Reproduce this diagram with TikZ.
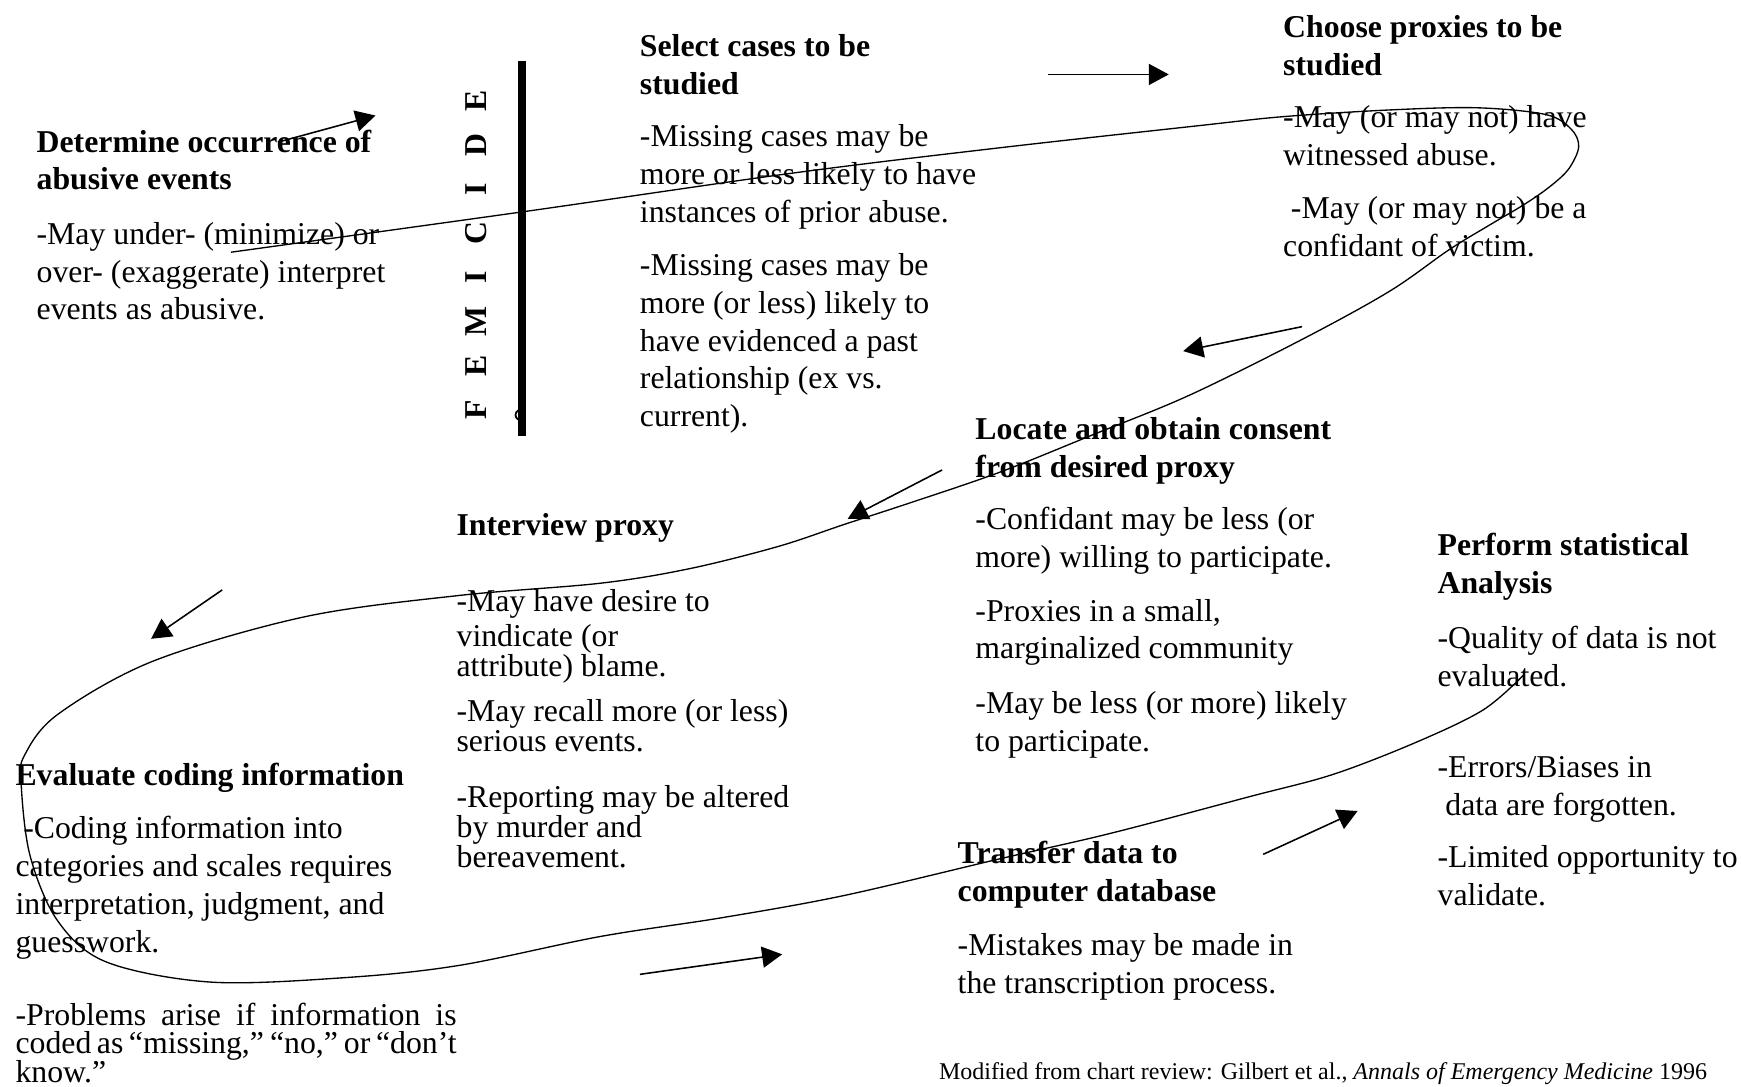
\documentclass[tikz,border=0pt]{standalone}
\usepackage{fontspec}
\setmainfont{Liberation Serif}
\usetikzlibrary{arrows.meta}
\newcommand\firstln{\rule{0pt}{22pt}}
\begin{document}
\begin{tikzpicture}[x=1pt,y=-1pt,
  blk/.style={anchor=north west, inner sep=0pt, outer sep=0pt, align=left, font=\fontsize{28.6}{34}\selectfont},
  tight/.style={blk, font=\fontsize{28.6}{27}\selectfont},
  arr/.style={line width=1.4pt, -{Triangle[length=18pt,width=19pt]}},
  loopline/.style={line width=1.2pt}]
\useasboundingbox (0,0) rectangle (1568,978);

% text blocks
\node[blk] (det) at (33,115) {\firstln\textbf{Determine occurrence of}\\\textbf{abusive events}\\[15pt]-May under- (minimize) or\\over- (exaggerate) interpret\\events as abusive.};

\node[blk] (sel) at (576,29) {\firstln\textbf{Select cases to be}\\\textbf{studied}\\[13pt]-Missing cases may be\\more or less likely to have\\instances of prior abuse.\\[14pt]-Missing cases may be\\more (or less) likely to\\have evidenced a past\\relationship (ex vs.\\current).};

\node[blk] (cho) at (1155,12) {\firstln\textbf{Choose proxies to be}\\\textbf{studied}\\[13pt]-May (or may not) have\\witnessed abuse.\\[14pt]\hspace*{7pt}-May (or may not) be a\\confidant of victim.};

\node[blk] (loc) at (878,374) {\firstln\textbf{Locate and obtain consent}\\\textbf{from desired proxy}\\[13pt]-Confidant may be less (or\\more) willing to participate.\\[14pt]-Proxies in a small,\\marginalized community\\[15pt]-May be less (or more) likely\\to participate.};

\node[tight] (int) at (411,460) {\firstln\textbf{Interview proxy}\\[41pt]-May have desire to\\[5pt]vindicate (or\\attribute) blame.\\[13pt]-May recall more (or less)\\serious events.\\[24pt]-Reporting may be altered\\by murder and\\bereavement.};

\node[blk] (eva) at (14,685) {\firstln\textbf{Evaluate coding information}\\[14pt]\hspace*{7pt}-Coding information into\\categories and scales requires\\interpretation, judgment, and\\guesswork.};

\node[blk, font=\fontsize{28.6}{25.5}\selectfont] (prob) at (14,901) {\firstln\hbox to 397pt{-Problems arise if information is}\\\hbox to 397pt{coded as “missing,” “no,” or “don’t}\\[-1pt]know.”};

\node[blk] (tra) at (862,755) {\firstln\textbf{Transfer data to}\\\textbf{computer database}\\[15pt]-Mistakes may be made in\\the transcription process.};

\node[blk] (per) at (1294,478) {\firstln\textbf{Perform statistical}\\\textbf{Analysis}\\[16pt]-Quality of data is not\\evaluated.\\[48pt]-Errors/Biases in\\\hspace*{7pt}data are forgotten.\\[13pt]-Limited opportunity to\\validate.};

\node[anchor=base west, inner sep=0pt, font=\fontsize{21.6}{26}\selectfont] (foot) at (845,972) {Modified from chart review: Gilbert et al., \textit{Annals of Emergency Medicine} 1996};

% FEMICIDE and bar
\node[rotate=90, inner sep=0pt, font=\fontsize{28.6}{34}\selectfont\bfseries] (fem) at (429,230)
  {\makebox[39.7pt]{F}\makebox[39.7pt]{E}\makebox[39.7pt]{M}\makebox[39.7pt]{I}\makebox[39.7pt]{C}\makebox[39.7pt]{I}\makebox[39.7pt]{D}\makebox[39.7pt]{E}};
\node[fill=black, minimum width=7pt, minimum height=337pt, inner sep=0pt] (bar) at (470,223.5) {};
\draw[line width=1.6pt] (467,369) .. controls (463,371) and (463,376) .. (467,378);

% loop curve
\draw[loopline] plot[smooth, tension=0.55] coordinates {
 (208,227) (468,191) (712,156) (900,133) (1080,113) (1155,105) (1250,99) (1329,97) (1391,103)
 (1414,116) (1421,132) (1412,152) (1395,168) (1372,184) (1340,203) (1304,225) (1251,262) (1173,305)
 (1070,356) (982,392) (900,425) (821,452) (760,472) (700,492) (620,512) (540,525) (413,536)
 (275,555) (138,595) (52,643) (22,680) (19,705) (27,770) (52,829) (96,866) (190,884) (310,880)
 (413,869) (540,843) (650,826) (760,806) (900,773) (1000,750) (1125,717) (1200,697) (1275,668)
 (1335,639) (1371,608)};

% arrows
\coordinate (a1s) at (250,128); \coordinate (a1e) at (338,104);
\coordinate (a2s) at (943,67);  \coordinate (a2e) at (1052,67);
\coordinate (a3s) at (1172,294); \coordinate (a3e) at (1065,316);
\coordinate (a4s) at (848,423); \coordinate (a4e) at (763,467);
\coordinate (a5s) at (200,531); \coordinate (a5e) at (136,575);
\coordinate (a6s) at (576,877); \coordinate (a6e) at (704,859);
\coordinate (a7s) at (1137,769); \coordinate (a7e) at (1222,730);
\draw[arr] (a1s) -- (a1e);
\draw[arr] (a2s) -- (a2e);
\draw[arr] (a3s) -- (a3e);
\draw[arr] (a4s) -- (a4e);
\draw[arr] (a5s) -- (a5e);
\draw[arr] (a6s) -- (a6e);
\draw[arr] (a7s) -- (a7e);
\end{tikzpicture}
\end{document}
